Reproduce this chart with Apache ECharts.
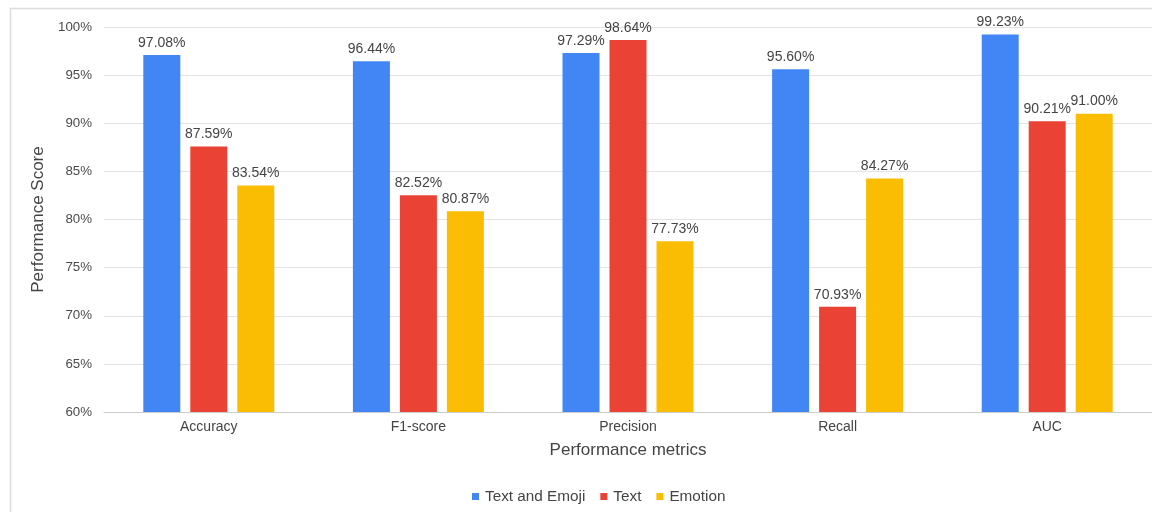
<!DOCTYPE html>
<html>
<head>
<meta charset="utf-8">
<script src="https://cdn.jsdelivr.net/npm/echarts@6/dist/echarts.min.js"></script>
<style>
html,body{margin:0;padding:0;background:#fff;}
#chart{width:1152px;height:512px;}
</style>
</head>
<body>
<div id="chart"></div>
<script>
const categories = ['Accuracy', 'F1-score', 'Precision', 'Recall', 'AUC'];
const seriesNames = ['Text and Emoji', 'Text', 'Emotion'];
const textAndEmoji = [97.08, 96.44, 97.29, 95.60, 99.23];
const textOnly = [87.59, 82.52, 98.64, 70.93, 90.21];
const emotion = [83.54, 80.87, 77.73, 84.27, 91.00];
const colors = ['#4285F4', '#EA4335', '#FBBC04'];

const FONT = 'Arial, "Liberation Sans", sans-serif';
const chart = echarts.init(document.getElementById('chart'), null, {renderer: 'canvas'});

function barSeries(name, data, color) {
  return {
    name: name,
    type: 'bar',
    data: data,
    barWidth: 37,
    barGap: '27%',
    itemStyle: {color: color},
    label: {
      show: true,
      position: 'top',
      distance: 5,
      color: '#444',
      fontSize: 14,
      fontFamily: FONT,
      formatter: p => p.value.toFixed(2) + '%'
    }
  };
}

chart.setOption({
  animation: false,
  backgroundColor: '#fff',
  color: colors,
  textStyle: {fontFamily: FONT},
  graphic: [{
    type: 'polyline',
    shape: {points: [[10.5, 512], [10.5, 8.5], [1152, 8.5]]},
    style: {stroke: '#dcdcdc', lineWidth: 1.5, fill: null},
    silent: true
  }],
  grid: {left: 104, top: 27, width: 1056, height: 385},
  legend: {
    data: seriesNames,
    top: 484,
    left: 467,
    itemWidth: 7,
    itemHeight: 7,
    itemGap: 15,
    icon: 'rect',
    textStyle: {color: '#444', fontSize: 15.3, fontFamily: FONT, padding: [0, 0, 0, 1]}
  },
  xAxis: {
    type: 'category',
    data: categories,
    name: 'Performance metrics',
    nameLocation: 'middle',
    nameGap: 30,
    nameTextStyle: {color: '#444', fontSize: 17, fontFamily: FONT},
    axisLine: {lineStyle: {color: '#ccc'}},
    axisTick: {show: false},
    axisLabel: {color: '#444', fontSize: 14, margin: 8, fontFamily: FONT}
  },
  yAxis: {
    type: 'value',
    min: 60,
    max: 100,
    interval: 5,
    name: 'Performance Score',
    nameLocation: 'middle',
    nameGap: 52,
    nameTextStyle: {color: '#444', fontSize: 17, fontFamily: FONT},
    axisLine: {show: false},
    axisTick: {show: false},
    axisLabel: {color: '#4a4a4a', fontSize: 13.3, margin: 12, fontFamily: FONT, formatter: '{value}%'},
    splitLine: {lineStyle: {color: '#e3e3e3'}}
  },
  series: [
    barSeries(seriesNames[0], textAndEmoji, colors[0]),
    barSeries(seriesNames[1], textOnly, colors[1]),
    barSeries(seriesNames[2], emotion, colors[2])
  ]
});
</script>
</body>
</html>
